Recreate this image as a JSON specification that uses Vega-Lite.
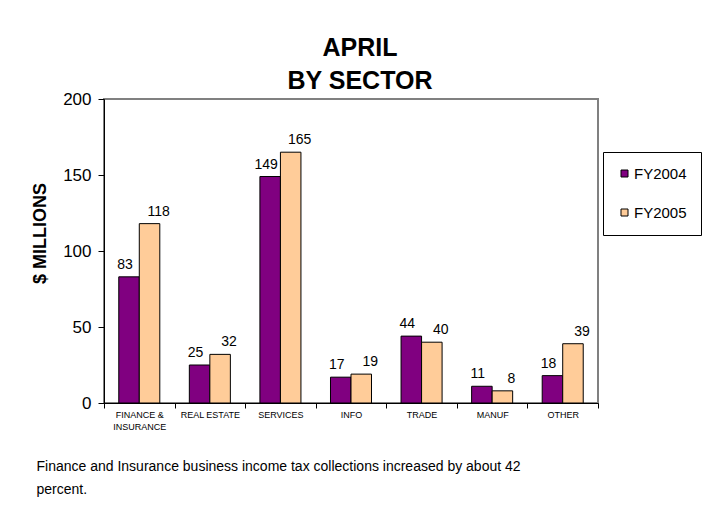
{
  "$schema": "https://vega.github.io/schema/vega-lite/v6.json",
  "width": 494,
  "height": 304,
  "autosize": {"type": "none"},
  "padding": {"left": 104, "top": 99, "right": 112, "bottom": 111},
  "background": "white",
  "title": {
    "text": ["APRIL", "BY SECTOR"],
    "font": "Liberation Sans",
    "fontSize": 25,
    "fontWeight": "bold",
    "color": "black",
    "lineHeight": 33,
    "anchor": "middle",
    "dx": 9,
    "offset": -4
  },
  "data": {
    "values": [
      {"sector": "FINANCE & INSURANCE", "year": "FY2004", "value": 83},
      {"sector": "FINANCE & INSURANCE", "year": "FY2005", "value": 118},
      {"sector": "REAL ESTATE", "year": "FY2004", "value": 25},
      {"sector": "REAL ESTATE", "year": "FY2005", "value": 32},
      {"sector": "SERVICES", "year": "FY2004", "value": 149},
      {"sector": "SERVICES", "year": "FY2005", "value": 165},
      {"sector": "INFO", "year": "FY2004", "value": 17},
      {"sector": "INFO", "year": "FY2005", "value": 19},
      {"sector": "TRADE", "year": "FY2004", "value": 44},
      {"sector": "TRADE", "year": "FY2005", "value": 40},
      {"sector": "MANUF", "year": "FY2004", "value": 11},
      {"sector": "MANUF", "year": "FY2005", "value": 8},
      {"sector": "OTHER", "year": "FY2004", "value": 18},
      {"sector": "OTHER", "year": "FY2005", "value": 39}
    ]
  },
  "encoding": {
    "x": {
      "field": "sector",
      "type": "nominal",
      "sort": null,
      "scale": {"paddingInner": 0, "paddingOuter": 0},
      "axis": {
        "title": ["Finance and Insurance business income tax collections increased by about 42", "percent."],
        "titleFont": "Liberation Sans",
        "titleFontSize": 14,
        "titleFontWeight": "normal",
        "titleColor": "black",
        "titleAnchor": "start",
        "titleAlign": "left",
        "titleBaseline": "top",
        "titleX": -68,
        "titleY": 56,
        "titleLineHeight": 23,
        "labelAngle": 0,
        "labelFont": "Liberation Sans",
        "labelFontSize": 9,
        "labelColor": "black",
        "labelPadding": 2,
        "labelLineHeight": 12,
        "labelExpr": "datum.value == 'FINANCE & INSURANCE' ? ['FINANCE &', 'INSURANCE'] : datum.value",
        "tickBand": "extent",
        "tickSize": 5,
        "tickColor": "black",
        "domainColor": "black",
        "labelOverlap": false
      }
    },
    "xOffset": {
      "field": "year",
      "type": "nominal",
      "scale": {"paddingInner": 0, "paddingOuter": 0.72}
    },
    "y": {
      "field": "value",
      "type": "quantitative",
      "scale": {"domain": [0, 200]},
      "axis": {
        "values": [0, 50, 100, 150, 200],
        "grid": false,
        "title": "$ MILLIONS",
        "titleFont": "Liberation Sans",
        "titleFontSize": 18,
        "titleFontWeight": "bold",
        "titleColor": "black",
        "titleX": -64,
        "titleY": 134,
        "titleAlign": "center",
        "titleBaseline": "middle",
        "labelFont": "Liberation Sans",
        "labelFontSize": 17,
        "labelColor": "black",
        "labelPadding": 7,
        "tickSize": 6,
        "tickColor": "black",
        "domainColor": "black"
      }
    }
  },
  "layer": [
    {
      "mark": {"type": "bar", "stroke": "black", "strokeWidth": 1},
      "encoding": {
        "fill": {
          "field": "year",
          "type": "nominal",
          "scale": {"domain": ["FY2004", "FY2005"], "range": ["#800080", "#FFCC99"]},
          "legend": {
            "title": null,
            "orient": "none",
            "legendX": 499,
            "legendY": 53,
            "direction": "vertical",
            "symbolType": "square",
            "symbolSize": 49,
            "symbolStrokeColor": "black",
            "symbolStrokeWidth": 1,
            "labelFont": "Liberation Sans",
            "labelFontSize": 15,
            "labelColor": "black",
            "labelOffset": 2,
            "rowPadding": 23,
            "padding": 14,
            "strokeColor": "black",
            "fillColor": "white"
          }
        }
      }
    },
    {
      "transform": [{"filter": "datum.year == 'FY2004'"}],
      "mark": {"type": "text", "baseline": "bottom", "dy": -5, "dx": -4, "font": "Liberation Sans", "fontSize": 14, "color": "black"},
      "encoding": {
        "text": {"field": "value", "type": "quantitative"}
      }
    },
    {
      "transform": [{"filter": "datum.year == 'FY2005'"}],
      "mark": {"type": "text", "baseline": "bottom", "dy": -5, "dx": 9, "font": "Liberation Sans", "fontSize": 14, "color": "black"},
      "encoding": {
        "text": {"field": "value", "type": "quantitative"}
      }
    }
  ],
  "config": {
    "view": {"stroke": "#808080", "strokeWidth": 2}
  }
}
